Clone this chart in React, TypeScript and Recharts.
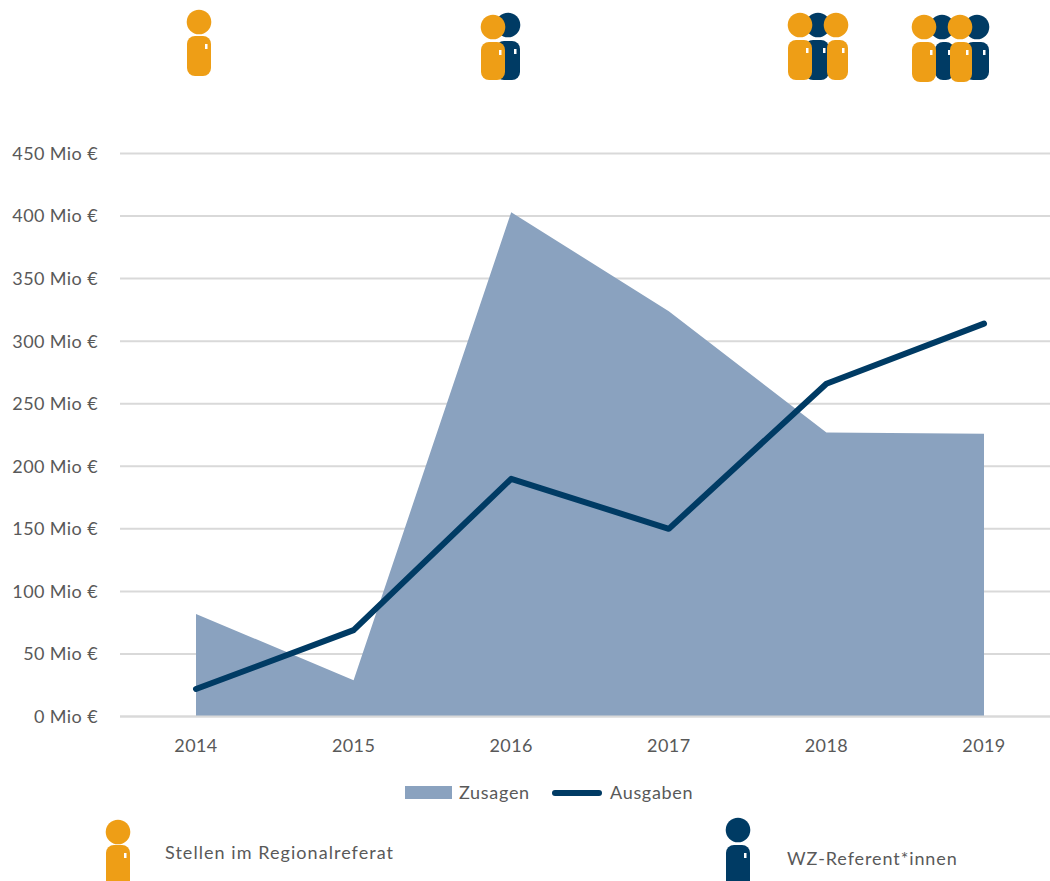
import { ComposedChart, Area, Line, XAxis, YAxis, CartesianGrid, Legend } from "recharts";

const years = ["2014", "2015", "2016", "2017", "2018", "2019"];
const zusagen = [82, 29, 403, 324, 227, 226];
const ausgaben = [22, 69, 190, 150, 266, 314];
const yTicks = [0, 50, 100, 150, 200, 250, 300, 350, 400, 450];

const data = years.map((year, i) => ({ year, Zusagen: zusagen[i], Ausgaben: ausgaben[i] }));

const ORANGE = "#ee9e16";
const NAVY = "#003b64";
const AREA = "#8aa2bf";
const TEXT = "#595959";
const GRID = "#d9d9d9";
const FONT = "Lato, sans-serif";

// head x/y, body left, body top, body bottom, body width
const peopleNavy = [
  [508, 25, 496, 41, 80, 24],
  [818, 25, 805, 40, 80, 24],
  [942, 27, 935, 42, 80, 19],
  [977, 27, 965, 42, 80, 24],
  [738, 830, 726, 845, 889, 24],
];
const peopleOrange = [
  [199, 22, 187, 36, 76, 24],
  [493, 27, 481, 42, 80, 24],
  [800, 25, 788, 40, 80, 24],
  [836, 25, 827, 40, 80, 21],
  [924, 27, 912, 42, 82, 24],
  [960, 27, 950, 42, 82, 22],
  [118, 832, 106, 845, 889, 24],
];

const Person = ({ p, color }: { p: number[]; color: string }) => {
  const [hx, hy, left, top, bottom, w] = p;
  return (
    <g>
      <circle cx={hx} cy={hy} r={12.3} fill={color} />
      <rect x={left} y={top} width={w} height={bottom - top} rx={8} fill={color} />
      <rect x={left + w - 6} y={top + 8} width={2.5} height={5} fill="#fff" />
    </g>
  );
};

const LegendContent = () => (
  <div style={{ position: "relative", height: 24, fontFamily: FONT, fontSize: 18, color: TEXT, letterSpacing: 0.7 }}>
    <div style={{ position: "absolute", left: 405, top: 6, width: 47, height: 13, background: AREA }} />
    <span style={{ position: "absolute", left: 459, top: 1 }}>Zusagen</span>
    <div style={{ position: "absolute", left: 552, top: 9.5, width: 50, height: 6, borderRadius: 3, background: NAVY }} />
    <span style={{ position: "absolute", left: 610, top: 1 }}>Ausgaben</span>
  </div>
);

export default function App() {
  return (
    <div style={{ position: "absolute", left: 0, top: 0, width: 1050, height: 881, overflow: "hidden", background: "#fff" }}>
      <ComposedChart
        width={1050}
        height={881}
        data={data}
        margin={{ top: 153.5, right: 0, bottom: 56, left: 0 }}
      >
        <CartesianGrid horizontal vertical={false} stroke={GRID} strokeWidth={2} />
        <XAxis
          dataKey="year"
          scale="point"
          padding={{ left: 76, right: 66 }}
          height={84.5}
          tickLine={false}
          axisLine={{ stroke: GRID, strokeWidth: 2 }}
          tickMargin={17}
          tick={{ fill: TEXT, fontSize: 18, fontFamily: FONT, letterSpacing: 0.4 }}
        />
        <YAxis
          width={120}
          domain={[0, 450]}
          ticks={yTicks}
          interval={0}
          tickLine={false}
          axisLine={false}
          tickMargin={16}
          tickFormatter={(v: number) => `${v} Mio €`}
          tick={{ fill: TEXT, fontSize: 18, fontFamily: FONT, letterSpacing: 0.4 }}
        />
        <Area dataKey="Zusagen" type="linear" fill={AREA} fillOpacity={1} stroke="none" isAnimationActive={false} dot={false} activeDot={false} />
        <Line dataKey="Ausgaben" type="linear" stroke={NAVY} strokeWidth={6} strokeLinecap="round" strokeLinejoin="round" dot={false} activeDot={false} isAnimationActive={false} />
        <Legend content={<LegendContent />} wrapperStyle={{ left: 0, top: 780, width: 1050 }} />
      </ComposedChart>
      <svg width={1050} height={881} style={{ position: "absolute", left: 0, top: 0, pointerEvents: "none" }}>
        {peopleNavy.map((p, i) => <Person key={`n${i}`} p={p} color={NAVY} />)}
        {peopleOrange.map((p, i) => <Person key={`o${i}`} p={p} color={ORANGE} />)}
        <text x={165} y={859} fill={TEXT} fontSize={18} fontFamily={FONT} letterSpacing={1.05}>Stellen im Regionalreferat</text>
        <text x={787} y={865} fill={TEXT} fontSize={18} fontFamily={FONT} letterSpacing={0.9}>WZ-Referent*innen</text>
      </svg>
    </div>
  );
}
